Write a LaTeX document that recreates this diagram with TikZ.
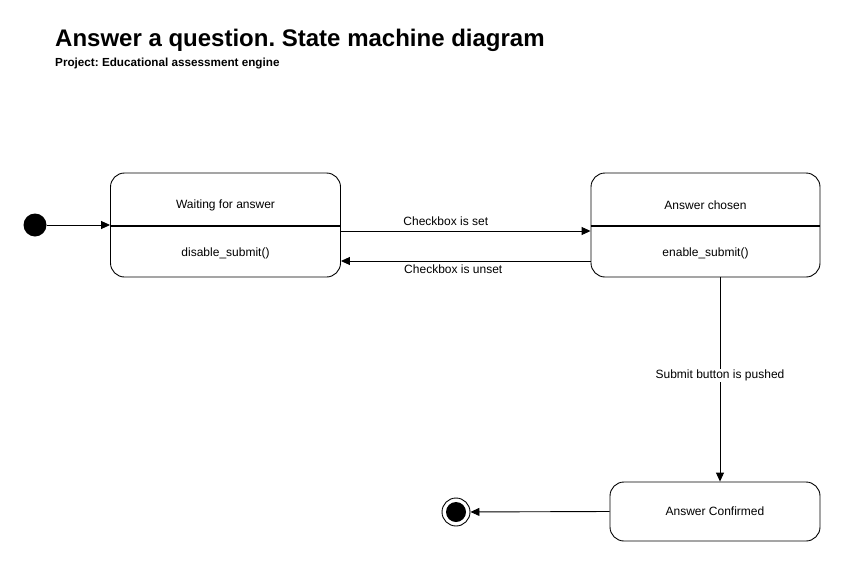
\documentclass[tikz,border=0pt]{standalone}
\usepackage{fontspec}
\setmainfont{Liberation Sans}
\usetikzlibrary{arrows.meta}
\frenchspacing

\tikzset{
  statebox/.style={draw, rounded corners=14pt, line width=0.9pt, inner sep=0pt},
  txt/.style={font=\fontsize{12}{14}\selectfont, inner sep=1pt},
  trans/.style={-{Triangle[length=9pt,width=8pt]}, line width=0.9pt}
}

\begin{document}
\begin{tikzpicture}[x=1pt,y=-1pt]
  \useasboundingbox[fill=white] (0,0) rectangle (843,562);
  % title
  \node[anchor=west, inner sep=0pt, font=\fontsize{24}{27}\selectfont\bfseries] (title) at (55,40) {Answer a question. State machine diagram};
  \node[anchor=west, inner sep=0pt, font=\fontsize{11.7}{13}\selectfont\bfseries] (project) at (55,63) {Project: Educational assessment engine};

  % states
  \node[statebox, minimum width=230pt, minimum height=104pt] (wait) at (225.5,225) {};
  \node[statebox, minimum width=229pt, minimum height=104pt] (chosen) at (705.5,225) {};
  \node[statebox, txt, minimum width=210pt, minimum height=59pt] (confirmed) at (715,511.5) {Answer Confirmed};
  \draw[line width=2pt] ([yshift=-1pt]wait.west) -- ([yshift=-1pt]wait.east);
  \draw[line width=2pt] ([yshift=-1pt]chosen.west) -- ([yshift=-1pt]chosen.east);
  \node[txt] (waitname) at (225.5,205) {Waiting for answer};
  \node[txt] (waitdo) at (225.5,253) {disable\_submit()};
  \node[txt] (chosenname) at (705.5,205) {Answer chosen};
  \node[txt] (chosendo) at (705.5,253) {enable\_submit()};

  % pseudo states
  \node[circle, fill=black, minimum size=23pt, inner sep=0pt] (start) at (35,225) {};
  \node[circle, draw, line width=0.9pt, fill=white, minimum size=28pt, inner sep=0pt] (finish) at (456,512) {};
  \node[circle, fill=black, minimum size=20pt, inner sep=0pt] (finishdot) at (finish) {};

  % transitions
  \draw[trans] (start) -- (wait.west);
  \draw[trans] ([yshift=-6pt]wait.east) -- node[txt, pos=0.42, above=4pt] (setlbl) {Checkbox is set} ([yshift=-6pt]chosen.west);
  \draw[trans] ([yshift=-36pt]chosen.west) -- node[txt, pos=0.55, below=2pt] (unsetlbl) {Checkbox is unset} ([yshift=-36pt]wait.east);
  \draw[trans] ([xshift=14.5pt]chosen.south) -- node[txt, fill=white, pos=0.48] (pushlbl) {Submit button is pushed} ([xshift=14.5pt]chosen.south |- confirmed.north);
  \draw[trans] (confirmed.west) -- (finish);
\end{tikzpicture}
\end{document}
